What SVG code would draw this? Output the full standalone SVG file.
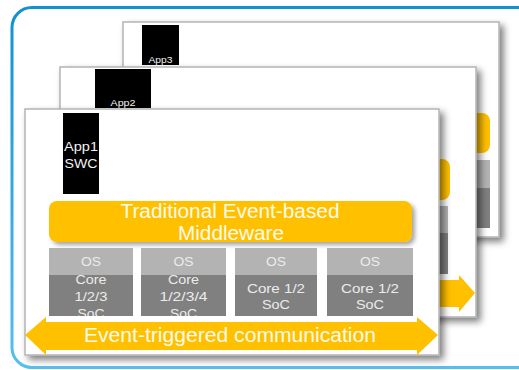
<svg xmlns="http://www.w3.org/2000/svg" width="519" height="370" viewBox="0 0 519 370">
  <defs>
    <linearGradient id="frameGrad" x1="0" y1="0" x2="0" y2="1">
      <stop offset="0" stop-color="#1190d2"/>
      <stop offset="1" stop-color="#55c0ec"/>
    </linearGradient>
    <filter id="cardShadow" x="-10%" y="-10%" width="125%" height="125%">
      <feDropShadow dx="4" dy="4" stdDeviation="3.5" flood-color="#000" flood-opacity="0.5"/>
    </filter>
    <filter id="boxShadow" x="-10%" y="-20%" width="125%" height="150%">
      <feDropShadow dx="3" dy="3" stdDeviation="2" flood-color="#000" flood-opacity="0.35"/>
    </filter>
    <clipPath id="clipOs1"><rect x="49" y="248" width="84" height="68"/></clipPath>
    <clipPath id="clipOs2"><rect x="141" y="248" width="85" height="68"/></clipPath>
  </defs>
  <style>
    .card { fill: #fff; stroke: #b4b4b4; stroke-width: 1.5; }
    .gold { fill: #ffc000; }
    .os { fill: #b3b3b3; }
    .core { fill: #808080; }
    .app { fill: #000; }
    text { font-family: "Liberation Sans", Arial, sans-serif; text-anchor: middle; }
    .appt { fill: #f2f2f2; }
    .big { font-size: 20px; fill: #fffbea; }
    .small { font-size: 12px; fill: #ececec; }
  </style>

  <!-- outer frame -->
  <rect x="12" y="7.5" width="526" height="360" rx="20" fill="#fff" stroke="url(#frameGrad)" stroke-width="3"/>

  <!-- back page: App3 -->
  <g id="page3">
    <rect class="card" x="123" y="22" width="376" height="215" filter="url(#cardShadow)"/>
    <rect class="app" x="142" y="25" width="37" height="40"/>
    <text class="appt" x="160.5" y="63" font-size="9" textLength="24" lengthAdjust="spacingAndGlyphs">App3</text>
    <rect class="gold" x="440" y="113" width="50" height="40" rx="8"/>
    <rect class="os" x="440" y="160" width="50" height="28"/>
    <rect class="core" x="440" y="188" width="50" height="40"/>
  </g>

  <!-- middle page: App2 -->
  <g id="page2">
    <rect class="card" x="60" y="67" width="416" height="250" filter="url(#cardShadow)"/>
    <rect class="app" x="95" y="69" width="56" height="39"/>
    <text class="appt" x="123" y="106" font-size="9" textLength="25" lengthAdjust="spacingAndGlyphs">App2</text>
    <rect class="gold" x="400" y="159" width="50" height="41" rx="8"/>
    <rect class="os" x="400" y="206" width="48" height="27"/>
    <rect class="core" x="400" y="233" width="48" height="41"/>
    <polygon class="gold" points="400,280 459,280 459,275 475,293 459,312 459,307 400,307"/>
  </g>

  <!-- front page: App1 SWC -->
  <g id="page1">
    <rect class="card" x="25" y="109" width="414" height="246" filter="url(#cardShadow)"/>
  </g>

  <g id="app1">
    <rect class="app" x="63" y="113" width="36" height="81"/>
    <text class="appt" x="81" y="151" font-size="12" textLength="34" lengthAdjust="spacingAndGlyphs">App1</text>
    <text class="appt" x="81" y="168" font-size="12" textLength="33" lengthAdjust="spacingAndGlyphs">SWC</text>
  </g>

  <g id="middleware">
    <rect class="gold" x="49" y="201" width="363" height="41" rx="8" filter="url(#boxShadow)"/>
    <text class="big" x="230" y="218" textLength="219" lengthAdjust="spacingAndGlyphs">Traditional Event-based</text>
    <text class="big" x="231" y="240" textLength="106" lengthAdjust="spacingAndGlyphs">Middleware</text>
  </g>

  <g id="ecu1" clip-path="url(#clipOs1)">
    <rect class="os" x="49" y="248" width="84" height="27"/>
    <rect class="core" x="49" y="275" width="84" height="41"/>
    <text class="small" x="91" y="266" textLength="20" lengthAdjust="spacingAndGlyphs">OS</text>
    <text class="small" x="91" y="284" textLength="31" lengthAdjust="spacingAndGlyphs">Core</text>
    <text class="small" x="91" y="301" textLength="33" lengthAdjust="spacingAndGlyphs">1/2/3</text>
    <text class="small" x="91" y="318" textLength="27" lengthAdjust="spacingAndGlyphs">SoC</text>
  </g>

  <g id="ecu2" clip-path="url(#clipOs2)">
    <rect class="os" x="141" y="248" width="85" height="27"/>
    <rect class="core" x="141" y="275" width="85" height="41"/>
    <text class="small" x="183.5" y="266" textLength="20" lengthAdjust="spacingAndGlyphs">OS</text>
    <text class="small" x="183.5" y="284" textLength="31" lengthAdjust="spacingAndGlyphs">Core</text>
    <text class="small" x="183.5" y="301" textLength="48" lengthAdjust="spacingAndGlyphs">1/2/3/4</text>
    <text class="small" x="183.5" y="318" textLength="27" lengthAdjust="spacingAndGlyphs">SoC</text>
  </g>

  <g id="ecu3">
    <rect class="os" x="235" y="248" width="82" height="27"/>
    <rect class="core" x="235" y="275" width="82" height="41"/>
    <text class="small" x="276" y="266" textLength="20" lengthAdjust="spacingAndGlyphs">OS</text>
    <text class="small" x="276" y="293" textLength="58" lengthAdjust="spacingAndGlyphs">Core 1/2</text>
    <text class="small" x="276" y="309" textLength="28" lengthAdjust="spacingAndGlyphs">SoC</text>
  </g>

  <g id="ecu4">
    <rect class="os" x="327" y="248" width="86" height="27"/>
    <rect class="core" x="327" y="275" width="86" height="41"/>
    <text class="small" x="370" y="266" textLength="20" lengthAdjust="spacingAndGlyphs">OS</text>
    <text class="small" x="370" y="293" textLength="58" lengthAdjust="spacingAndGlyphs">Core 1/2</text>
    <text class="small" x="370" y="309" textLength="28" lengthAdjust="spacingAndGlyphs">SoC</text>
  </g>

  <!-- communication bus -->
  <g id="connectors">
    <polygon class="gold" points="25,335 46,317 46,322 417,322 417,317 438,335 417,355 417,350 46,350 46,355"/>
    <text class="big" x="230" y="342" textLength="292" lengthAdjust="spacingAndGlyphs">Event-triggered communication</text>
  </g>
</svg>
